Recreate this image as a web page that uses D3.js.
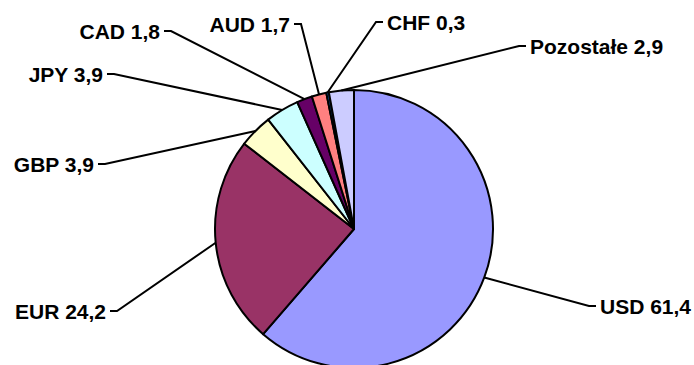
<!DOCTYPE html>
<html>
<head>
<meta charset="utf-8">
<script src="https://cdn.jsdelivr.net/npm/d3@7"></script>
<style>
  html, body { margin: 0; padding: 0; background: #fff; overflow: hidden; }
  svg { display: block; }
  text { font-family: "Liberation Sans", Arial, sans-serif; font-weight: bold; font-size: 21px; fill: #000; }
</style>
</head>
<body>
<svg id="chart" width="694" height="365"></svg>
<script>
// Currency shares (%)
const currencies = ["USD", "EUR", "GBP", "JPY", "CAD", "AUD", "CHF", "Pozostałe"];
const shares = [61.4, 24.2, 3.9, 3.9, 1.8, 1.7, 0.3, 2.9];
const shareLabels = ["61,4", "24,2", "3,9", "3,9", "1,8", "1,7", "0,3", "2,9"];
const sliceColors = ["#9999FF", "#993366", "#FFFFCC", "#CCFFFF", "#660066", "#FF8080", "#0066CC", "#CCCCFF"];

// Label placement: anchor point of the text, which side the leader attaches to
const labelLayout = {
  "USD":       { x: 600, y: 306, side: "left"  },
  "EUR":       { x: 106, y: 311, side: "right" },
  "GBP":       { x: 94,  y: 164, side: "right" },
  "JPY":       { x: 103, y: 74,  side: "right" },
  "CAD":       { x: 160, y: 31,  side: "right" },
  "AUD":       { x: 290, y: 24,  side: "right" },
  "CHF":       { x: 387, y: 22,  side: "left"  },
  "Pozostałe": { x: 530, y: 46,  side: "left"  }
};

const svg = d3.select("#chart");
const cx = 354, cy = 229, radius = 139;

const data = currencies.map((c, i) => ({ name: c, value: shares[i], label: shareLabels[i], color: sliceColors[i] }));

const pie = d3.pie().value(d => d.value).sort(null);
const arcs = pie(data);
const arcGen = d3.arc().innerRadius(0).outerRadius(radius);

const g = svg.append("g").attr("transform", `translate(${cx},${cy})`);

g.selectAll("path.slice")
  .data(arcs)
  .join("path")
  .attr("class", "slice")
  .attr("d", arcGen)
  .attr("fill", d => d.data.color)
  .attr("stroke", "#000")
  .attr("stroke-width", 2)
  .attr("stroke-linejoin", "round");

// Leader lines and labels
const labels = svg.append("g");
arcs.forEach(a => {
  const mid = (a.startAngle + a.endAngle) / 2;
  const px = cx + radius * Math.sin(mid);
  const py = cy - radius * Math.cos(mid);
  const L = labelLayout[a.data.name];
  const gap = 4, stub = 7;
  const ex = L.side === "right" ? L.x + gap : L.x - gap;
  const bx = L.side === "right" ? ex + stub : ex - stub;
  labels.append("path")
    .attr("d", d3.line()([[px, py], [bx, L.y], [ex, L.y]]))
    .attr("fill", "none")
    .attr("stroke", "#000")
    .attr("stroke-width", 2);
  labels.append("text")
    .attr("x", L.x)
    .attr("y", L.y)
    .attr("dy", "0.36em")
    .attr("text-anchor", L.side === "right" ? "end" : "start")
    .text(`${a.data.name} ${a.data.label}`);
});
</script>
</body>
</html>
